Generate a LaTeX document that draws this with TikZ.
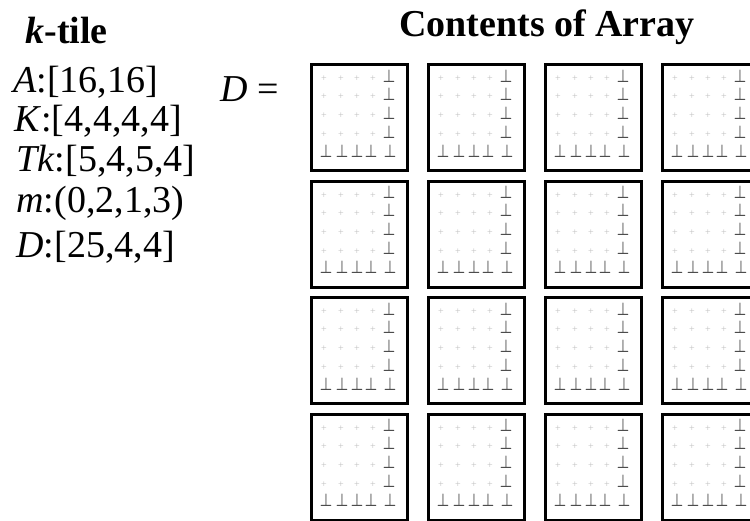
\documentclass[tikz,border=0pt]{standalone}
\usepackage{amsmath}
\usepackage{fontspec}
\setmainfont{Liberation Serif}

\begin{document}
\begin{tikzpicture}[x=0.5pt,y=-0.5pt,
  every node/.style={inner sep=0pt},
  lbl/.style={anchor=base west,font=\fontsize{19}{22}\selectfont},
  head/.style={anchor=base,font=\bfseries\fontsize{19}{22}\selectfont},
  tile/.style={draw,line width=1.5pt,anchor=north west,minimum width=48pt,minimum height=53pt},
  bot/.style={anchor=base,text=black!70,font=\fontsize{9.5}{9.5}\selectfont},
  pt/.style={text=black!25,font=\fontsize{5}{5}\selectfont}]
\useasboundingbox (0,0) rectangle (750,520);
\clip (0,0) rectangle (750,520);
% left column: k-tile parameters
\node[lbl,font=\bfseries\fontsize{19}{22}\selectfont] (ktile) at (25,43) {\textit{k}-tile};
\node[lbl] (pA) at (13,92) {\textit{A}:[16,16]};
\node[lbl] (pK) at (14,131) {\textit{K}:[4,4,4,4]};
\node[lbl] (pTk) at (16,171) {\textit{Tk}:[5,4,5,4]};
\node[lbl] (pm) at (16,212) {\textit{m}:(0,2,1,3)};
\node[lbl] (pD) at (16,257) {\textit{D}:[25,4,4]};
% array
\node[head] (title) at (547,36) {Contents of Array};
\node[lbl] (Deq) at (220,101) {\textit{D} =};
\foreach \j in {0,...,3}{
  \foreach \i in {0,...,3}{
    \begin{scope}[shift={({310+117*\i},{63+116.5*\j})}]
      \node[tile] (T\j\i) at (0,0) {};
      \foreach \r/\ry in {1/19,2/37,3/56,4/75}{
        \foreach \c/\cx in {1/14,2/31,3/47,4/63}
          \node[pt] (p\j\i-\r\c) at (\cx,\ry-3) {+};
        \node[bot] (b\j\i-\r5) at (79,\ry) {\scalebox{0.75}[1]{$\boldsymbol\perp$}};
      }
      \foreach \c/\cx in {1/16,2/32,3/47,4/61,5/80}
        \node[bot] (b\j\i-5\c) at (\cx,94) {\scalebox{0.75}[1]{$\boldsymbol\perp$}};
    \end{scope}
  }
}
\end{tikzpicture}
\end{document}
